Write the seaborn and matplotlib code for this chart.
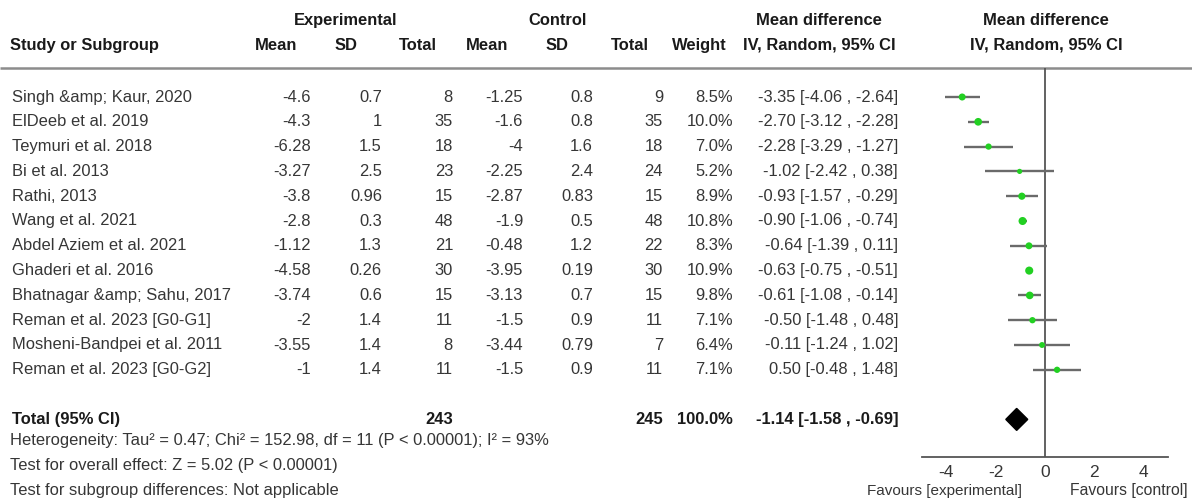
import matplotlib
matplotlib.use("Agg")
import matplotlib.pyplot as plt
import seaborn as sns
import pandas as pd

sns.set_style("white")
plt.rcParams["font.family"] = ["Liberation Sans", "DejaVu Sans"]

# ---- data ----
studies = [
    "Singh &amp; Kaur, 2020", "ElDeeb et al. 2019", "Teymuri et al. 2018",
    "Bi et al. 2013", "Rathi, 2013", "Wang et al. 2021",
    "Abdel Aziem et al. 2021", "Ghaderi et al. 2016", "Bhatnagar &amp; Sahu, 2017",
    "Reman et al. 2023 [G0-G1]", "Mosheni-Bandpei et al. 2011", "Reman et al. 2023 [G0-G2]",
]
exp_mean = [-4.6, -4.3, -6.28, -3.27, -3.8, -2.8, -1.12, -4.58, -3.74, -2, -3.55, -1]
exp_sd = [0.7, 1, 1.5, 2.5, 0.96, 0.3, 1.3, 0.26, 0.6, 1.4, 1.4, 1.4]
exp_n = [8, 35, 18, 23, 15, 48, 21, 30, 15, 11, 8, 11]
ctl_mean = [-1.25, -1.6, -4, -2.25, -2.87, -1.9, -0.48, -3.95, -3.13, -1.5, -3.44, -1.5]
ctl_sd = [0.8, 0.8, 1.6, 2.4, 0.83, 0.5, 1.2, 0.19, 0.7, 0.9, 0.79, 0.9]
ctl_n = [9, 35, 18, 24, 15, 48, 22, 30, 15, 11, 7, 11]
weight = [8.5, 10.0, 7.0, 5.2, 8.9, 10.8, 8.3, 10.9, 9.8, 7.1, 6.4, 7.1]
md = [-3.35, -2.70, -2.28, -1.02, -0.93, -0.90, -0.64, -0.63, -0.61, -0.50, -0.11, 0.50]
ci_lo = [-4.06, -3.12, -3.29, -2.42, -1.57, -1.06, -1.39, -0.75, -1.08, -1.48, -1.24, -0.48]
ci_hi = [-2.64, -2.28, -1.27, 0.38, -0.29, -0.74, 0.11, -0.51, -0.14, 0.48, 1.02, 1.48]

total_exp_n = 243
total_ctl_n = 245
total_weight = 100.0
total_md = -1.14
total_lo = -1.58
total_hi = -0.69

x_ticks = [-4, -2, 0, 2, 4]

footer = [
    "Heterogeneity: Tau² = 0.47; Chi² = 152.98, df = 11 (P < 0.00001); I² = 93%",
    "Test for overall effect: Z = 5.02 (P < 0.00001)",
    "Test for subgroup differences: Not applicable",
]

# ---- layout (pixel units) ----
W, H = 1192, 499
DPI = 100
ROW0, ROW_H = 97.0, 24.8
HEAD_LINE = 68
AXIS_Y = 457
PLOT_L, PLOT_R = 921.5, 1168
TOTAL_ROW = len(studies) + 1

TXT = "#363636"
HDR = "#1a1a1a"
FS = 11.9

fig = plt.figure(figsize=(W / DPI, H / DPI), dpi=DPI)
fig.patch.set_facecolor("white")

# background axes in pixel coordinates for the table
bg = fig.add_axes([0, 0, 1, 1])
bg.set_xlim(0, W)
bg.set_ylim(H, 0)
bg.axis("off")


def txt(x, y, s, ha="left", bold=False, color=None, size=FS):
    bg.text(x, y, s, ha=ha, va="center", fontsize=size,
            fontweight="bold" if bold else "normal",
            color=color or (HDR if bold else TXT))


# headers
y1, y2 = 20, 45
txt(346, y1, "Experimental", "center", True)
txt(557.5, y1, "Control", "center", True)
txt(819, y1, "Mean difference", "center", True)
txt(1046, y1, "Mean difference", "center", True)

txt(10, y2, "Study or Subgroup", "left", True)
col_centers = [276, 346.5, 418, 487.5, 557.5, 629.5, 699.5]
for cx, lab in zip(col_centers, ["Mean", "SD", "Total", "Mean", "SD", "Total", "Weight"]):
    txt(cx, y2, lab, "center", True)
txt(819, y2, "IV, Random, 95% CI", "center", True)
txt(1046, y2, "IV, Random, 95% CI", "center", True)

bg.hlines(HEAD_LINE, 0, W, color="#8c8c8c", lw=1.8)

# study rows
col_right = [311, 382, 453, 523, 593, 663, 733]
CI_RIGHT = 898
for i, name in enumerate(studies):
    y = ROW0 + ROW_H * i
    txt(12, y, name)
    vals = [f"{exp_mean[i]:g}", f"{exp_sd[i]:g}", f"{exp_n[i]}",
            f"{ctl_mean[i]:g}", f"{ctl_sd[i]:g}", f"{ctl_n[i]}",
            f"{weight[i]:.1f}%"]
    for xr, v in zip(col_right, vals):
        txt(xr, y, v, "right")
    txt(CI_RIGHT, y, f"{md[i]:.2f} [{ci_lo[i]:.2f} , {ci_hi[i]:.2f}]", "right")

# total row
yt = ROW0 + ROW_H * TOTAL_ROW
txt(12, yt, "Total (95% CI)", "left", True)
txt(col_right[2], yt, f"{total_exp_n}", "right", True)
txt(col_right[5], yt, f"{total_ctl_n}", "right", True)
txt(col_right[6], yt, f"{total_weight:.1f}%", "right", True)
txt(CI_RIGHT, yt, f"{total_md:.2f} [{total_lo:.2f} , {total_hi:.2f}]", "right", True)

for k, line in enumerate(footer):
    txt(10, 441 + 24.5 * k, line)

# ---- forest plot axes ----
ax = fig.add_axes([PLOT_L / W, 1 - AXIS_Y / H,
                   (PLOT_R - PLOT_L) / W, (AXIS_Y - HEAD_LINE) / H])
ax.set_facecolor("none")
ax.set_xlim(-5, 5)
ax.set_ylim(AXIS_Y, HEAD_LINE)

df = pd.DataFrame({
    "md": md, "lo": ci_lo, "hi": ci_hi, "weight": weight,
    "y": [ROW0 + ROW_H * i for i in range(len(studies))],
})

ax.axvline(0, color="#555555", lw=1.3, zorder=1)
ax.hlines(df["y"], df["lo"], df["hi"], color="#6a6a6a", lw=1.7, zorder=2)
sns.scatterplot(data=df, x="md", y="y", size="weight", sizes=(14, 34),
                size_norm=(5.2, 10.9), color="#22d022", edgecolor="none",
                marker="o", legend=False, ax=ax, zorder=3)

# pooled estimate diamond
dh = 11
ax.fill([total_lo, total_md, total_hi, total_md],
        [yt, yt - dh, yt, yt + dh], color="black", zorder=3)

for s in ["top", "right", "left"]:
    ax.spines[s].set_visible(False)
ax.spines["bottom"].set_color("#555555")
ax.spines["bottom"].set_linewidth(1.3)
ax.set_xticks(x_ticks)
ax.set_xticklabels([f"{t:d}" for t in x_ticks])
ax.tick_params(axis="x", direction="inout", length=9, width=1.2,
               color="#555555", labelcolor=TXT, labelsize=12.5, pad=1)
ax.set_yticks([])
ax.set_xlabel("")
ax.set_ylabel("")

txt(1022, 491, "Favours [experimental]", "right", size=11)
txt(1070, 491, "Favours [control]", "left", size=11.3)

fig.savefig("out.png", dpi=DPI, facecolor="white")
